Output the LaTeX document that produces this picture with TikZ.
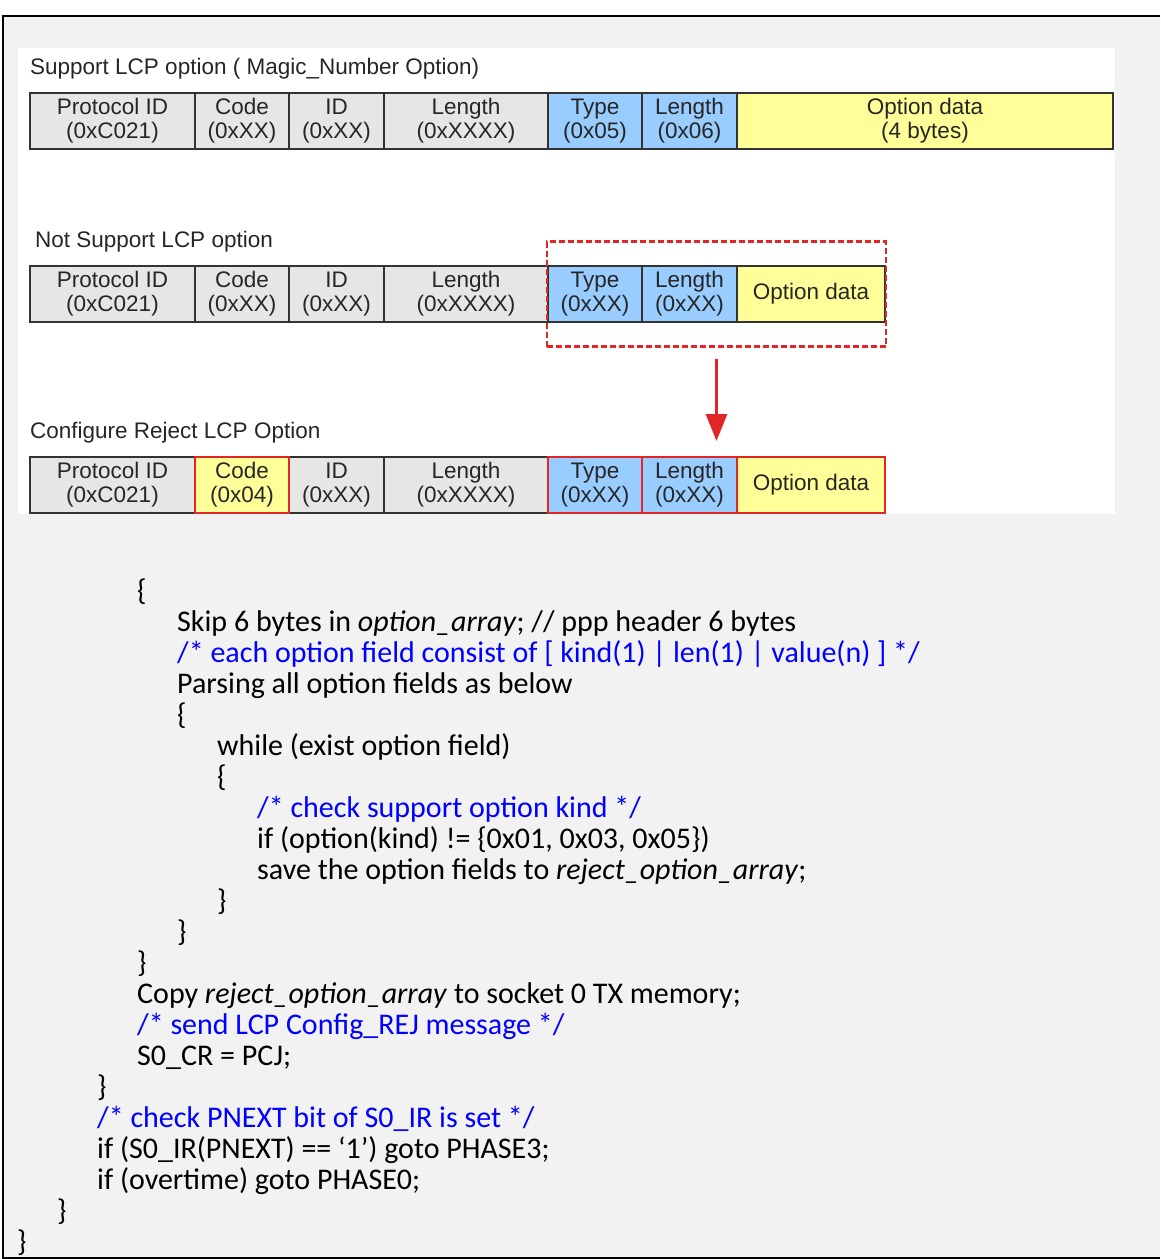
\documentclass[tikz,border=0pt]{standalone}
\usepackage{fontspec}
\setmainfont{Liberation Sans}
\newfontfamily\codefont{Carlito}
\usetikzlibrary{arrows.meta,positioning,fit}
\definecolor{PanelClr}{RGB}{242,242,242}
\definecolor{HeadClr}{RGB}{230,230,230}
\definecolor{TypeClr}{RGB}{153,204,255}
\definecolor{DataClr}{RGB}{255,255,153}
\definecolor{RejClr}{RGB}{226,38,38}
\definecolor{CmtClr}{RGB}{0,0,255}

\begin{document}
\begin{tikzpicture}[x=1pt,y=-1pt,
  field/.style={draw=black!80,line width=1.6pt,minimum height=56pt,
    inner sep=0pt,outer sep=0pt,align=center,text=black!85,
    font=\fontsize{22.5}{24}\selectfont,anchor=north west},
  head/.style={field,fill=HeadClr},
  kind/.style={field,fill=TypeClr},
  data/.style={field,fill=DataClr},
  rejline/.style={draw=RejClr,line width=1.8pt},
  title/.style={anchor=base west,inner sep=0pt,text=black!85,
    font=\fontsize{22.5}{24}\selectfont},
  code/.style={anchor=base west,inner sep=0pt,
    font=\codefont\fontsize{30}{31}\selectfont},
  cmt/.style={code,text=CmtClr}]
\useasboundingbox (0,0) rectangle (1160,1259);

% frame and panels
\fill[PanelClr] (3,16) rectangle (1160,1258);
\fill[white] (18,48) rectangle (1115,514);
\draw[line width=2.5pt] (1160,16) -- (3,16) -- (3,1258) -- (1160,1258);

% supported option
\node[title] (t-sup) at (30,74) {Support LCP option ( Magic\_Number Option)};
\node[head,minimum width=165pt] (s-pid) at (30,93) {Protocol ID\\(0xC021)};
\node[head,minimum width=94pt,right=0pt of s-pid] (s-code) {Code\\(0xXX)};
\node[head,minimum width=95pt,right=0pt of s-code] (s-id) {ID\\(0xXX)};
\node[head,minimum width=164pt,right=0pt of s-id] (s-len) {Length\\(0xXXXX)};
\node[kind,minimum width=94pt,right=0pt of s-len] (s-type) {Type\\(0x05)};
\node[kind,minimum width=95pt,right=0pt of s-type] (s-olen) {Length\\(0x06)};
\node[data,minimum width=376pt,right=0pt of s-olen] (s-data) {Option data\\(4 bytes)};

% unsupported option
\node[title] (t-not) at (35,247) {Not Support LCP option};
\node[head,minimum width=165pt] (n-pid) at (30,266) {Protocol ID\\(0xC021)};
\node[head,minimum width=94pt,right=0pt of n-pid] (n-code) {Code\\(0xXX)};
\node[head,minimum width=95pt,right=0pt of n-code] (n-id) {ID\\(0xXX)};
\node[head,minimum width=164pt,right=0pt of n-id] (n-len) {Length\\(0xXXXX)};
\node[kind,minimum width=94pt,right=0pt of n-len] (n-type) {Type\\(0xXX)};
\node[kind,minimum width=95pt,right=0pt of n-type] (n-olen) {Length\\(0xXX)};
\node[data,minimum width=148pt,right=0pt of n-olen] (n-data) {Option data};
\node[fit=(n-type)(n-data),draw=RejClr,line width=2.6pt,
  dash pattern=on 6pt off 3pt,inner xsep=1pt,inner ysep=24.5pt] (n-drop) {};

% reject message
\node[title] (t-rej) at (30,438) {Configure Reject LCP Option};
\node[head,minimum width=165pt] (r-pid) at (30,457) {Protocol ID\\(0xC021)};
\node[data,minimum width=94pt,right=0pt of r-pid] (r-code) {Code\\(0x04)};
\node[head,minimum width=95pt,right=0pt of r-code] (r-id) {ID\\(0xXX)};
\node[head,minimum width=164pt,right=0pt of r-id] (r-len) {Length\\(0xXXXX)};
\node[kind,minimum width=94pt,right=0pt of r-len] (r-type) {Type\\(0xXX)};
\node[kind,minimum width=95pt,right=0pt of r-type] (r-olen) {Length\\(0xXX)};
\node[data,minimum width=148pt,right=0pt of r-olen] (r-data) {Option data};
\draw[rejline] (r-code.north west) rectangle (r-code.south east);
\draw[rejline] (r-type.north west) rectangle (r-type.south east);
\draw[rejline] (r-olen.north west) rectangle (r-olen.south east);
\draw[rejline] (r-data.north west) rectangle (r-data.south east);

\draw[RejClr,line width=3pt,-{Triangle[length=27pt,width=21pt]},
  shorten <=11pt,shorten >=16pt] (n-drop.south) -- (n-drop.south |- r-type.north);

% pseudo code
\node[code] (c1) at (137,600) {\{};
\node[code] (c2) at (177,631) {Skip 6 bytes in \textit{option\_array}; // ppp header 6 bytes};
\node[cmt] (c3) at (177,662) {/* each option field consist of [ kind(1) | len(1) | value(n) ] */};
\node[code] (c4) at (177,693) {Parsing all option fields as below};
\node[code] (c5) at (177,724) {\{};
\node[code] (c6) at (217,755) {while (exist option field)};
\node[code] (c7) at (217,786) {\{};
\node[cmt] (c8) at (257,817) {/* check support option kind */};
\node[code] (c9) at (257,848) {if (option(kind) != \{0x01, 0x03, 0x05\})};
\node[code] (c10) at (257,879) {save the option fields to \textit{reject\_option\_array};};
\node[code] (c11) at (217,910) {\}};
\node[code] (c12) at (177,941) {\}};
\node[code] (c13) at (137,972) {\}};
\node[code] (c14) at (137,1003) {Copy \textit{reject\_option\_array} to socket 0 TX memory;};
\node[cmt] (c15) at (137,1034) {/* send LCP Config\_REJ message */};
\node[code] (c16) at (137,1065) {S0\_CR = PCJ;};
\node[code] (c17) at (97,1096) {\}};
\node[cmt] (c18) at (97,1127) {/* check PNEXT bit of S0\_IR is set */};
\node[code] (c19) at (97,1158) {if (S0\_IR(PNEXT) == ‘1’) goto PHASE3;};
\node[code] (c20) at (97,1189) {if (overtime) goto PHASE0;};
\node[code] (c21) at (57,1220) {\}};
\node[code] (c22) at (17,1251) {\}};

\end{tikzpicture}
\end{document}
